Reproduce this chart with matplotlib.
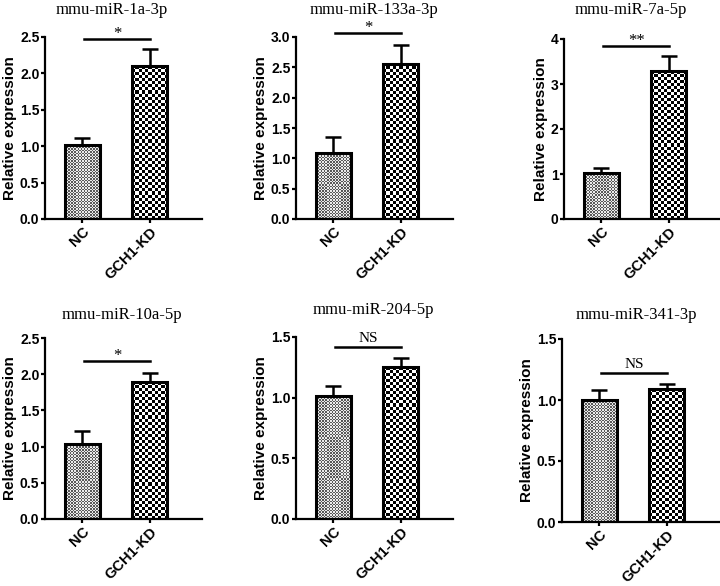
import numpy as np
import matplotlib
matplotlib.use("Agg")
import matplotlib.pyplot as plt
from matplotlib.ticker import MultipleLocator

# ---- data ----
titles = ["mmu-miR-1a-3p", "mmu-miR-133a-3p", "mmu-miR-7a-5p",
          "mmu-miR-10a-5p", "mmu-miR-204-5p", "mmu-miR-341-3p"]
groups = ["NC", "GCH1-KD"]
nc_mean = [1.01, 1.09, 1.02, 1.04, 1.01, 1.00]
nc_err = [0.10, 0.26, 0.11, 0.18, 0.09, 0.08]
kd_mean = [2.10, 2.56, 3.28, 1.89, 1.25, 1.09]
kd_err = [0.23, 0.31, 0.34, 0.12, 0.08, 0.04]
sig_labels = ["*", "*", "**", "*", "NS", "NS"]
sig_y = [2.47, 3.07, 3.85, 2.18, 1.42, 1.22]
y_max = [2.5, 3.0, 4.0, 2.5, 1.5, 1.5]
y_step = [0.5, 0.5, 1.0, 0.5, 0.5, 0.5]

# ---- layout (pixels) ----
W, H = 720, 586
# left spine x, bottom y, top y (pixels from top)
panels_px = [(45, 219, 37), (296, 219, 37), (564, 219, 39),
             (45, 519, 338), (296, 519, 337), (562, 522, 339)]
title_px = [(112, 10), (374, 10), (631, 10), (122, 315), (373, 310), (636, 315)]
axw_px = 157
xlim = (-0.55, 1.77)

fig = plt.figure(figsize=(W / 100, H / 100), dpi=100)
fig.patch.set_facecolor("white")

bold_sans = dict(family="Liberation Sans", weight="bold")


def checker(nrows, ncols, c1, c2):
    ii, jj = np.indices((nrows, ncols))
    return np.where((ii + jj) % 2 == 0, c1, c2)


for i in range(6):
    lx, by, ty = panels_px[i]
    ax = fig.add_axes([lx / W, 1 - by / H, axw_px / W, (by - ty) / H])
    x = np.arange(len(groups))
    means = [nc_mean[i], kd_mean[i]]
    errs = [nc_err[i], kd_err[i]]
    bars = ax.bar(x, means, width=0.52, facecolor="none", edgecolor="black",
                  linewidth=2.2, zorder=3)
    ax.errorbar(x, means, yerr=[[0, 0], errs], fmt="none", ecolor="black",
                elinewidth=1.8, capsize=6, capthick=1.8, zorder=2)
    ax.set_xlim(*xlim)
    ax.set_ylim(0, y_max[i])

    # texture fill (checker patterns) clipped to each bar
    for j, patch in enumerate(bars.patches):
        bb = patch.get_bbox()
        p0 = ax.transData.transform((bb.x0, bb.y0))
        p1 = ax.transData.transform((bb.x1, bb.y1))
        wpx, hpx = abs(p1[0] - p0[0]), abs(p1[1] - p0[1])
        if j == 0:
            cell = 1.5
            arr = checker(max(1, int(hpx / cell)), max(1, int(wpx / cell)), 0.35, 0.92)
        else:
            cell = 3.0
            arr = checker(max(1, int(hpx / cell)), max(1, int(wpx / cell)), 0.0, 1.0)
        im = ax.imshow(arr, extent=(bb.x0, bb.x1, bb.y0, bb.y1), cmap="gray",
                       vmin=0, vmax=1, interpolation="nearest", aspect="auto",
                       origin="lower", zorder=1)
        im.set_clip_path(patch)
    ax.set_xlim(*xlim)
    ax.set_ylim(0, y_max[i])

    # significance bar
    ax.plot([0.03, 1.0], [sig_y[i], sig_y[i]], color="black", lw=1.8,
            clip_on=False, zorder=4)
    if sig_labels[i] == "NS":
        ax.annotate(sig_labels[i], (0.515, sig_y[i]), xytext=(0, 3.5),
                    textcoords="offset points", ha="center", va="baseline",
                    fontsize=11, family="Liberation Serif", annotation_clip=False)
    else:
        ax.annotate(sig_labels[i], (0.515, sig_y[i]), xytext=(0, 0.5),
                    textcoords="offset points", ha="center", va="baseline",
                    fontsize=12, family="Liberation Serif", annotation_clip=False)

    # axes style
    for s in ["top", "right"]:
        ax.spines[s].set_visible(False)
    for s in ["left", "bottom"]:
        ax.spines[s].set_linewidth(1.6)
    ax.yaxis.set_major_locator(MultipleLocator(y_step[i]))
    if y_step[i] == 1.0:
        ax.set_yticklabels([f"{v:.0f}" for v in ax.get_yticks()])
    else:
        ax.set_yticklabels([f"{v:.1f}" for v in ax.get_yticks()])
    ax.set_xticks(x)
    ax.set_xticklabels(groups, rotation=45, ha="right", rotation_mode="anchor")
    ax.tick_params(axis="both", direction="out", length=3, width=1.6, pad=1)
    for lab in ax.get_yticklabels():
        lab.set_fontfamily("Liberation Sans")
        lab.set_fontweight("bold")
        lab.set_fontsize(10)
    for lab in ax.get_xticklabels():
        lab.set_fontfamily("Liberation Sans")
        lab.set_fontweight("bold")
        lab.set_fontsize(10.5)
    ax.set_ylabel("Relative expression", fontsize=11, labelpad=2, **bold_sans)

    tx, tyy = title_px[i]
    fig.text(tx / W, 1 - tyy / H, titles[i], ha="center", va="center",
             fontsize=12, family="Liberation Serif")

fig.savefig("out.png", dpi=100, facecolor="white")
